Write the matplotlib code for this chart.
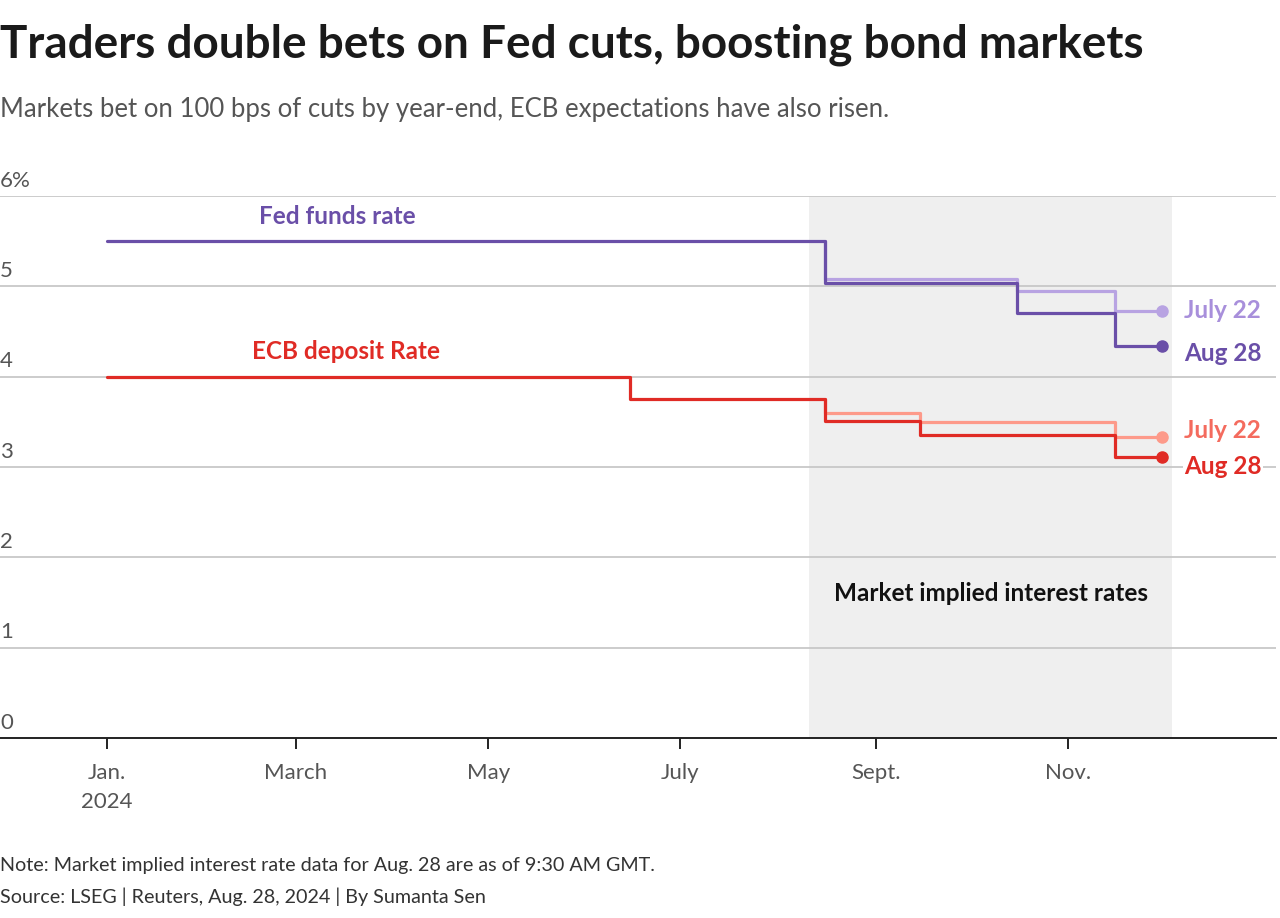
import matplotlib
matplotlib.use("Agg")
import matplotlib.pyplot as plt
import matplotlib.dates as mdates
import matplotlib.transforms as mtransforms
import numpy as np
import pandas as pd

# ---------------- data ----------------
fed_hist_dates = ["2024-01-01", "2024-08-16"]
fed_hist_vals = [5.50, 5.50]
fed_jul22_dates = ["2024-08-16", "2024-10-16", "2024-11-16", "2024-12-01"]
fed_jul22_vals = [5.08, 4.95, 4.73, 4.73]
fed_aug28_dates = ["2024-08-16", "2024-10-16", "2024-11-16", "2024-12-01"]
fed_aug28_vals = [5.04, 4.70, 4.34, 4.34]

ecb_hist_dates = ["2024-01-01", "2024-06-15", "2024-08-16"]
ecb_hist_vals = [4.00, 3.75, 3.75]
ecb_jul22_dates = ["2024-08-16", "2024-09-15", "2024-11-16", "2024-12-01"]
ecb_jul22_vals = [3.60, 3.50, 3.33, 3.33]
ecb_aug28_dates = ["2024-08-16", "2024-09-15", "2024-11-16", "2024-12-01"]
ecb_aug28_vals = [3.51, 3.35, 3.11, 3.11]

shade_start, shade_end = "2024-08-11", "2024-12-04"

xtick_dates = ["2024-01-01", "2024-03-01", "2024-05-01", "2024-07-01", "2024-09-01", "2024-11-01"]
xtick_labels = ["Jan.\n2024", "March", "May", "July", "Sept.", "Nov."]
ytick_vals = [0, 1, 2, 3, 4, 5, 6]
ytick_labels = ["0", "1", "2", "3", "4", "5", "6%"]

# ---------------- style ----------------
FONT = "Lato"
plt.rcParams["font.family"] = [FONT, "DejaVu Sans"]

FED_DARK = "#6a4fa8"
FED_LIGHT = "#b8a3e2"
FED_LIGHT_TXT = "#a88fdb"
ECB_DARK = "#e02b25"
ECB_LIGHT = "#fd9a8a"
ECB_LIGHT_TXT = "#f46b5e"
GRID = "#c8c8c8"
TICK_TXT = "#555555"
LW = 2.3
LBL = 17.5

W, H = 1280, 918
fig = plt.figure(figsize=(W / 100, H / 100), dpi=100)
ax = fig.add_axes([0 / W, 1 - 738 / H, 1276 / W, (738 - 196) / H])

d = lambda s: mdates.date2num(pd.Timestamp(s))
jan1 = d("2024-01-01")
ax.set_xlim(jan1 - 107 / 3.15, jan1 + (1276 - 107) / 3.15)
ax.set_ylim(0, 6)

# shaded region
ax.axvspan(d(shade_start), d(shade_end), ymin=0, ymax=1, color="#efefef", lw=0, zorder=0)

# gridlines
for v in ytick_vals[1:]:
    ax.axhline(v, color=GRID, lw=1.3, zorder=1)

def series(hd, hv, fd, fv):
    dates = [pd.Timestamp(x) for x in hd] + [pd.Timestamp(x) for x in fd]
    vals = list(hv) + list(fv)
    return dates, vals

# Fed
dts, vals = series(fed_hist_dates[-1:], fed_hist_vals[-1:], fed_jul22_dates, fed_jul22_vals)
ax.step(dts, vals, where="post", color=FED_LIGHT, lw=LW, zorder=3, solid_capstyle="round")
ax.plot([pd.Timestamp(fed_jul22_dates[-1])], [fed_jul22_vals[-1]], "o", color=FED_LIGHT, ms=8, zorder=3)
dts, vals = series(fed_hist_dates, fed_hist_vals, fed_aug28_dates, fed_aug28_vals)
ax.step(dts, vals, where="post", color=FED_DARK, lw=LW, zorder=4, solid_capstyle="round")
ax.plot([pd.Timestamp(fed_aug28_dates[-1])], [fed_aug28_vals[-1]], "o", color=FED_DARK, ms=8, zorder=4)

# ECB
dts, vals = series(ecb_hist_dates[-1:], ecb_hist_vals[-1:], ecb_jul22_dates, ecb_jul22_vals)
ax.step(dts, vals, where="post", color=ECB_LIGHT, lw=LW, zorder=3, solid_capstyle="round")
ax.plot([pd.Timestamp(ecb_jul22_dates[-1])], [ecb_jul22_vals[-1]], "o", color=ECB_LIGHT, ms=8, zorder=3)
dts, vals = series(ecb_hist_dates, ecb_hist_vals, ecb_aug28_dates, ecb_aug28_vals)
ax.step(dts, vals, where="post", color=ECB_DARK, lw=LW, zorder=4, solid_capstyle="round")
ax.plot([pd.Timestamp(ecb_aug28_dates[-1])], [ecb_aug28_vals[-1]], "o", color=ECB_DARK, ms=8, zorder=4)

# axes styling
for s in ["top", "right", "left"]:
    ax.spines[s].set_visible(False)
ax.spines["bottom"].set_color("#222222")
ax.spines["bottom"].set_linewidth(1.4)
ax.spines["bottom"].set_zorder(5)
ax.set_yticks([])
ax.set_xticks([d(x) for x in xtick_dates])
ax.set_xticklabels(xtick_labels, fontsize=16, color=TICK_TXT, linespacing=1.55)
ax.tick_params(axis="x", length=8, width=1.4, color="#222222", pad=10)
ax.patch.set_alpha(0)

trans = mtransforms.blended_transform_factory(ax.transAxes, ax.transData)
for v, lab in zip(ytick_vals, ytick_labels):
    ax.text(0.0, v + 0.06, lab, transform=trans, ha="left", va="bottom",
            fontsize=16, color=TICK_TXT)

# series labels
ax.text(d("2024-03-14"), 5.77, "Fed funds rate", ha="center", va="center",
        fontsize=LBL, fontweight="bold", color=FED_DARK)
ax.text(d("2024-03-17"), 4.28, "ECB deposit Rate", ha="center", va="center",
        fontsize=LBL, fontweight="bold", color=ECB_DARK)
ax.text((d(shade_start) + d(shade_end)) / 2, 1.6, "Market implied interest rates",
        ha="center", va="center", fontsize=LBL, fontweight="bold", color="#111111")

xl = d("2024-12-08")
ax.text(xl, fed_jul22_vals[-1], "July 22", ha="left", va="center", fontsize=LBL,
        fontweight="bold", color=FED_LIGHT_TXT)
ax.text(xl, fed_aug28_vals[-1] - 0.08, "Aug 28", ha="left", va="center", fontsize=LBL,
        fontweight="bold", color=FED_DARK)
ax.text(xl, ecb_jul22_vals[-1] + 0.07, "July 22", ha="left", va="center", fontsize=LBL,
        fontweight="bold", color=ECB_LIGHT_TXT)
ax.text(xl, ecb_aug28_vals[-1] - 0.10, "Aug 28", ha="left", va="center", fontsize=LBL,
        fontweight="bold", color=ECB_DARK,
        bbox=dict(facecolor="white", edgecolor="none", pad=1.0), zorder=6)

# titles
fig.text(0 / W, 1 - 45 / H, "Traders double bets on Fed cuts, boosting bond markets",
         ha="left", va="center", fontsize=33, fontweight="bold", color="#1a1a1a")
fig.text(0 / W, 1 - 110 / H,
         "Markets bet on 100 bps of cuts by year-end, ECB expectations have also risen.",
         ha="left", va="center", fontsize=18.5, color="#555555")
fig.text(0 / W, 1 - 866 / H,
         "Note: Market implied interest rate data for Aug. 28 are as of 9:30 AM GMT.",
         ha="left", va="center", fontsize=14.2, color="#333333")
fig.text(0 / W, 1 - 897 / H, "Source: LSEG | Reuters, Aug. 28, 2024 | By Sumanta Sen",
         ha="left", va="center", fontsize=14.2, color="#333333")

fig.savefig("out.png", dpi=100, facecolor="white")
